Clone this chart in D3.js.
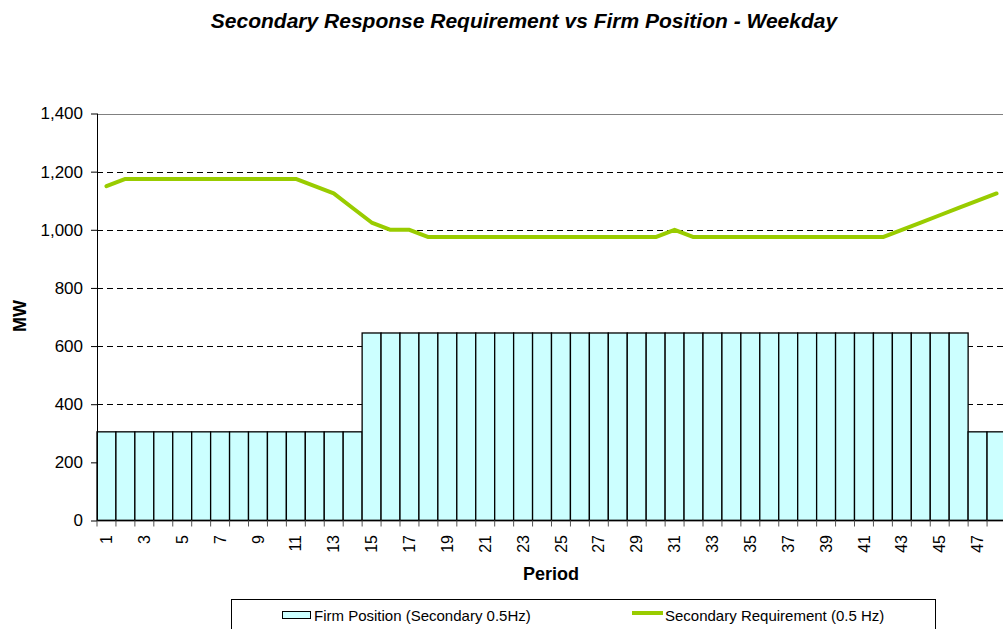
<!DOCTYPE html>
<html>
<head>
<meta charset="utf-8">
<script src="https://cdn.jsdelivr.net/npm/d3@7"></script>
<style>
  body { margin: 0; background: #fff; }
  svg { display: block; font-family: "Liberation Sans", Arial, sans-serif; }
</style>
</head>
<body>
<svg id="chart" width="1003" height="629"></svg>
<script>
const periods = d3.range(1, 49);
const firmPosition = [
  305,305,305,305,305,305,305,305,305,305,305,305,305,305,
  645,645,645,645,645,645,645,645,645,645,645,645,645,645,645,645,
  645,645,645,645,645,645,645,645,645,645,645,645,645,645,645,645,
  305,305
];
const secondaryReq = [
  1150,1175,1175,1175,1175,1175,1175,1175,1175,1175,1175,1150,1125,1075,1025,1000,
  1000,975,975,975,975,975,975,975,975,975,975,975,975,975,1000,975,
  975,975,975,975,975,975,975,975,975,975,1000,1025,1050,1075,1100,1125
];
const yTicks = [0, 200, 400, 600, 800, 1000, 1200, 1400];
const xLabels = periods.filter(p => p % 2 === 1);
const titleText = "Secondary Response Requirement vs Firm Position - Weekday";
const seriesNames = ["Firm Position (Secondary 0.5Hz)", "Secondary Requirement (0.5 Hz)"];

const svg = d3.select("#chart");
const x = d3.scaleBand().domain(periods).range([97, 1006]).padding(0);
const y = d3.scaleLinear().domain([0, 1400]).range([520.5, 113.5]);

// title
svg.append("text").attr("x", 524).attr("y", 28).attr("text-anchor", "middle")
  .attr("font-size", 21).attr("font-weight", "bold").attr("font-style", "italic")
  .text(titleText);

// gridlines
svg.append("g").selectAll("line").data(yTicks.filter(t => t > 0)).join("line")
  .attr("x1", 97).attr("x2", 1006)
  .attr("y1", d => Math.round(y(d)) + 0.5).attr("y2", d => Math.round(y(d)) + 0.5)
  .attr("stroke", d => d === 1400 ? "#808080" : "#000")
  .attr("stroke-dasharray", d => d === 1400 ? null : "6,4");

// bars
svg.append("g").selectAll("rect").data(periods).join("rect")
  .attr("x", d => x(d)).attr("width", x.bandwidth())
  .attr("y", (d, i) => y(firmPosition[i]))
  .attr("height", (d, i) => y(0) - y(firmPosition[i]))
  .attr("fill", "#CCFFFF").attr("stroke", "#000").attr("stroke-width", 1.3);

// y axis
const yAxis = d3.axisLeft(y).tickValues(yTicks).tickSize(6).tickPadding(8)
  .tickFormat(d3.format(","));
const gy = svg.append("g").attr("transform", "translate(97,0)").call(yAxis);
gy.select(".domain").remove();
gy.selectAll(".tick line").attr("stroke", "#000");
gy.selectAll("text").attr("font-size", 17).attr("fill", "#000")
  .attr("font-family", "Liberation Sans, Arial, sans-serif");
svg.append("line").attr("x1", 97.5).attr("x2", 97.5).attr("y1", y(1400)).attr("y2", y(0))
  .attr("stroke", "#000");

// x axis
svg.append("line").attr("x1", 97).attr("x2", 1006).attr("y1", y(0)).attr("y2", y(0))
  .attr("stroke", "#000").attr("stroke-width", 1.5);
svg.append("g").selectAll("line").data(periods).join("line")
  .attr("x1", d => x(d)).attr("x2", d => x(d))
  .attr("y1", y(0)).attr("y2", y(0) + 6).attr("stroke", "#555");
svg.append("g").selectAll("text").data(xLabels).join("text")
  .attr("transform", d => `translate(${x(d) + x.bandwidth() / 2},535) rotate(-90)`)
  .attr("text-anchor", "end").attr("dy", "0.35em")
  .attr("font-size", 16).text(d => d);

// line
const line = d3.line().x((d, i) => x(periods[i]) + x.bandwidth() / 2).y(d => y(d));
svg.append("path").datum(secondaryReq).attr("d", line)
  .attr("fill", "none").attr("stroke", "#99CC00").attr("stroke-width", 4)
  .attr("stroke-linejoin", "round").attr("stroke-linecap", "round");

// axis titles
svg.append("text").attr("x", 551).attr("y", 580).attr("text-anchor", "middle")
  .attr("font-size", 18).attr("font-weight", "bold").text("Period");
svg.append("text").attr("transform", "translate(26,316) rotate(-90)")
  .attr("text-anchor", "middle").attr("font-size", 18).attr("font-weight", "bold").text("MW");

// legend
const lg = svg.append("g");
lg.append("rect").attr("x", 231.5).attr("y", 599.5).attr("width", 704).attr("height", 50)
  .attr("fill", "#fff").attr("stroke", "#000");
lg.append("rect").attr("x", 282.5).attr("y", 611.5).attr("width", 28).attr("height", 7)
  .attr("fill", "#CCFFFF").attr("stroke", "#000");
lg.append("text").attr("x", 314).attr("y", 621).attr("font-size", 15).text(seriesNames[0]);
lg.append("line").attr("x1", 632).attr("x2", 663).attr("y1", 613).attr("y2", 613)
  .attr("stroke", "#99CC00").attr("stroke-width", 4);
lg.append("text").attr("x", 665).attr("y", 621).attr("font-size", 15).text(seriesNames[1]);
</script>
</body>
</html>
